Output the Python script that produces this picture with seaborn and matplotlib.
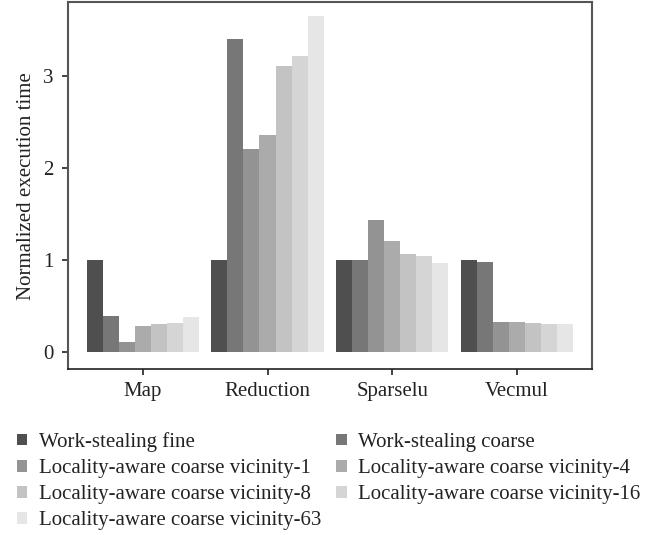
import matplotlib
matplotlib.use("Agg")
import matplotlib.pyplot as plt
from matplotlib.patches import Patch
import seaborn as sns
import pandas as pd

benchmarks = ["Map", "Reduction", "Sparselu", "Vecmul"]
schedulers = [
    "Work-stealing fine",
    "Work-stealing coarse",
    "Locality-aware coarse vicinity-1",
    "Locality-aware coarse vicinity-4",
    "Locality-aware coarse vicinity-8",
    "Locality-aware coarse vicinity-16",
    "Locality-aware coarse vicinity-63",
]
map_times = [1.00, 0.39, 0.11, 0.28, 0.31, 0.32, 0.38]
reduction_times = [1.00, 3.40, 2.21, 2.36, 3.11, 3.22, 3.65]
sparselu_times = [1.00, 1.00, 1.43, 1.21, 1.07, 1.04, 0.97]
vecmul_times = [1.00, 0.98, 0.33, 0.33, 0.32, 0.31, 0.30]
grays = ["#4f4f4f", "#777777", "#939393", "#ababab", "#c2c3c2", "#d5d5d5", "#e6e6e6"]

rows = []
for bench, vals in zip(benchmarks, [map_times, reduction_times, sparselu_times, vecmul_times]):
    for sched, v in zip(schedulers, vals):
        rows.append({"benchmark": bench, "scheduler": sched, "time": v})
df = pd.DataFrame(rows)

sns.set_theme(style="white")
plt.rcParams["font.family"] = ["Liberation Serif", "DejaVu Serif"]

fig = plt.figure(figsize=(6.52, 5.35), dpi=100)
ax = fig.add_axes([0.104, 0.310, 0.804, 0.686])

sns.barplot(data=df, x="benchmark", y="time", hue="scheduler",
            order=benchmarks, hue_order=schedulers, palette=grays,
            width=0.9, saturation=1, linewidth=0, ax=ax, legend=False)

ax.set_xlim(-0.6, 3.6)
ax.set_ylim(-0.185, 3.80)
ax.set_yticks([0, 1, 2, 3])
ax.set_xlabel("")
ax.set_ylabel("Normalized execution time", fontsize=15, color="#222222", labelpad=5)
ax.tick_params(axis="both", which="major", labelsize=15, colors="#222222",
               length=4, width=1.2, direction="out", left=True, bottom=True)
ax.tick_params(axis="y", pad=6)
ax.tick_params(axis="x", pad=5)

for side in ["left", "top", "right"]:
    ax.spines[side].set_color("#555555")
    ax.spines[side].set_linewidth(1.5)
ax.spines["bottom"].set_color("#222222")
ax.spines["bottom"].set_linewidth(1.2)

handles = [Patch(facecolor=c, edgecolor="none", label=s) for c, s in zip(grays, schedulers)]
order = [0, 2, 4, 6, 1, 3, 5]
fig.legend([handles[i] for i in order], [schedulers[i] for i in order],
           ncol=2, loc="upper left", bbox_to_anchor=(0.026, 0.1925),
           frameon=False, fontsize=15, handlelength=0.5, handleheight=0.5,
           handletextpad=0.56, labelspacing=0.34, columnspacing=0.72,
           borderaxespad=0, borderpad=0, labelcolor="#222222")

fig.savefig("out.png", dpi=100)
